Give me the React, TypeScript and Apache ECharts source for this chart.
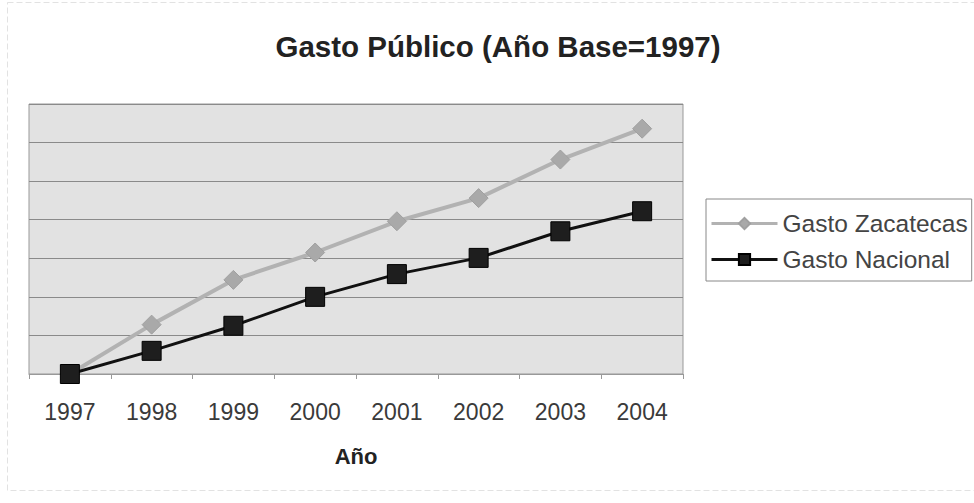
import React, { useEffect, useRef } from "react";
import * as echarts from "echarts";

const years = ["1997", "1998", "1999", "2000", "2001", "2002", "2003", "2004"];
const gastoZacatecas = [0, 25.6, 48.8, 63, 79.2, 91.2, 111.2, 127.2];
const gastoNacional = [0, 12, 25, 40, 51.8, 60.2, 74, 84.4];
const seriesNames = ["Gasto Zacatecas", "Gasto Nacional"];
const titleText = "Gasto Público (Año Base=1997)";
const xAxisName = "Año";

const FONT = "'Liberation Sans', Arial, sans-serif";

export default function App() {
  const ref = useRef<HTMLDivElement>(null);
  useEffect(() => {
    document.body.style.margin = "0";
    if (!ref.current) return;
    const chart = echarts.init(ref.current, undefined, { renderer: "svg" });
    chart.setOption({
      animation: false,
      backgroundColor: "#ffffff",
      textStyle: { fontFamily: FONT },
      title: {
        text: titleText,
        left: 493,
        textAlign: "center",
        top: 26,
        textStyle: { fontSize: 29.5, fontWeight: "bold", color: "#222222", fontFamily: FONT },
      },
      graphic: [
        {
          type: "rect",
          shape: { x: 7.5, y: 2.5, width: 980, height: 488 },
          style: { fill: "none", stroke: "#e2e2e2", lineWidth: 1, lineDash: [6, 3] },
          silent: true,
        },
      ],
      legend: {
        orient: "vertical",
        left: 706,
        top: 199,
        width: 266,
        data: seriesNames,
        backgroundColor: "#ffffff",
        borderColor: "#888888",
        borderWidth: 1,
        padding: [12, 4, 9, 4],
        itemGap: 11,
        itemWidth: 66,
        itemHeight: 14,
        lineStyle: { width: 3 },
        textStyle: { fontSize: 24.5, color: "#444444", lineHeight: 24, fontFamily: FONT },
      },
      grid: {
        left: 29,
        top: 104,
        width: 654,
        height: 270,
        show: true,
        backgroundColor: "#e2e2e2",
        borderColor: "#999999",
        borderWidth: 1,
      },
      xAxis: {
        type: "category",
        data: years,
        boundaryGap: true,
        axisLine: { show: true, lineStyle: { color: "#999999", width: 1 } },
        axisTick: { show: true, length: 5, lineStyle: { color: "#999999" } },
        axisLabel: { fontSize: 23, color: "#3a3a3a", margin: 26, fontFamily: FONT },
        name: xAxisName,
        nameLocation: "middle",
        nameGap: 71,
        nameTextStyle: { fontSize: 22, fontWeight: "bold", color: "#222222", fontFamily: FONT },
      },
      yAxis: {
        type: "value",
        min: 0,
        max: 140,
        interval: 20,
        axisLine: { show: false },
        axisTick: { show: false },
        axisLabel: { show: false },
        splitLine: { show: true, lineStyle: { color: "#8a8a8a", width: 1 } },
      },
      series: [
        {
          name: seriesNames[0],
          type: "line",
          data: gastoZacatecas,
          symbol: "diamond",
          symbolSize: 19,
          lineStyle: { color: "#b2b2b2", width: 4 },
          itemStyle: { color: "#a9a9a9", borderColor: "#a0a0a0", borderWidth: 1 },
        },
        {
          name: seriesNames[1],
          type: "line",
          data: gastoNacional,
          symbol: "rect",
          symbolSize: 19,
          lineStyle: { color: "#111111", width: 3 },
          itemStyle: { color: "#1e1e1e", borderColor: "#000000", borderWidth: 1 },
        },
      ],
    });
    return () => chart.dispose();
  }, []);
  return <div ref={ref} style={{ width: 974, height: 503 }} />;
}
